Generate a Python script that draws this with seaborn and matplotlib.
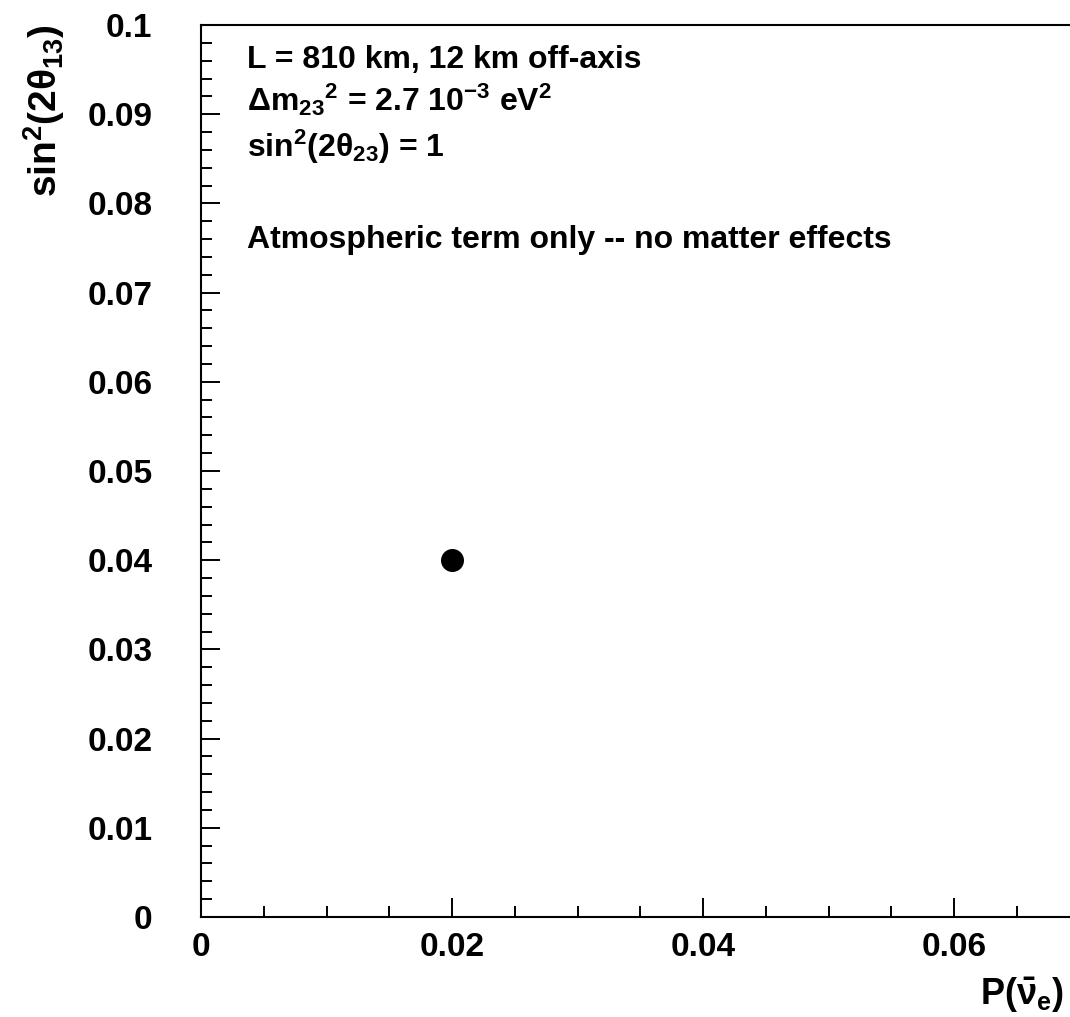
import matplotlib
matplotlib.use("Agg")
import matplotlib.pyplot as plt
import seaborn as sns
import pandas as pd
from matplotlib.ticker import MultipleLocator, FuncFormatter

# ---- data ----
p_nuebar = [0.02]
sin2_2theta13 = [0.04]
x_major_ticks = [0.0, 0.02, 0.04, 0.06]
y_major_ticks = [0.0, 0.01, 0.02, 0.03, 0.04, 0.05, 0.06, 0.07, 0.08, 0.09, 0.1]
annot_lines = [
    r"L = 810 km, 12 km off-axis",
    r"$\Delta$m$_{23}$$^{2}$ = 2.7 10$^{-3}$ eV$^{2}$",
    r"sin$^{2}$(2$\theta_{23}$) = 1",
    r"Atmospheric term only -- no matter effects",
]

sns.set_theme(style="white")
plt.rcParams["font.family"] = ["Liberation Sans", "DejaVu Sans"]
plt.rcParams["font.weight"] = "bold"
plt.rcParams["mathtext.fontset"] = "custom"
plt.rcParams["mathtext.rm"] = "Liberation Sans:bold"
plt.rcParams["mathtext.it"] = "Liberation Sans:bold"
plt.rcParams["mathtext.bf"] = "Liberation Sans:bold"
plt.rcParams["mathtext.sf"] = "Liberation Sans"
plt.rcParams["mathtext.default"] = "rm"

W, H = 1070, 1017
fig = plt.figure(figsize=(W / 100, H / 100), dpi=100)
ax_left, ax_right, ax_top, ax_bottom = 201, 201 + 4 * 251, 25, 917
ax = fig.add_axes([ax_left / W, 1 - ax_bottom / H, (ax_right - ax_left) / W, (ax_bottom - ax_top) / H])

df = pd.DataFrame({"P": p_nuebar, "s": sin2_2theta13})
sns.scatterplot(data=df, x="P", y="s", ax=ax, s=23**2 * 0.72**2, color="black",
                edgecolor="black", linewidth=0, zorder=5, clip_on=False)

ax.set_xlim(0, 0.08)
ax.set_ylim(0, 0.1)
ax.set_xticks(x_major_ticks)
ax.set_yticks(y_major_ticks)
ax.xaxis.set_minor_locator(MultipleLocator(0.005))
ax.yaxis.set_minor_locator(MultipleLocator(0.002))

def fmt(v, pos):
    if abs(v) < 1e-12:
        return "0"
    return "0.1" if abs(v - 0.1) < 1e-9 else "%.2f" % v
ax.xaxis.set_major_formatter(FuncFormatter(fmt))
ax.yaxis.set_major_formatter(FuncFormatter(fmt))

ax.tick_params(axis="both", which="major", direction="in", length=14, width=1.4,
               color="black", labelsize=24, labelcolor="black")
ax.tick_params(axis="both", which="minor", direction="in", length=8, width=1.4, color="black")
ax.tick_params(axis="x", which="both", bottom=True, top=False, pad=11)
ax.tick_params(axis="y", which="both", left=True, right=False, pad=35)
for lab in ax.get_xticklabels() + ax.get_yticklabels():
    lab.set_fontweight("bold")

for side in ["left", "bottom", "top", "right"]:
    ax.spines[side].set_visible(True)
    ax.spines[side].set_color("black")
    ax.spines[side].set_linewidth(1.5)

ax.set_xlabel("")
ax.set_ylabel("")

# axis titles
fig.text(44 / W, 1 - 24 / H, r"sin$^{2}$(2$\theta_{13}$)", rotation=90, ha="center", va="top",
         fontsize=28, fontweight="bold", color="black")
fig.text(1064 / W, 1 - 995 / H, r"P($\bar{\nu}_{e}$)", ha="right", va="center",
         fontsize=26, fontweight="bold", color="black")

# annotation lines
baselines = [68, 111, 157, 248]
for txt, yb in zip(annot_lines, baselines):
    fig.text(247 / W, 1 - yb / H, txt, ha="left", va="baseline", fontsize=23,
             fontweight="bold", color="black")

fig.savefig("out.png", dpi=100)
